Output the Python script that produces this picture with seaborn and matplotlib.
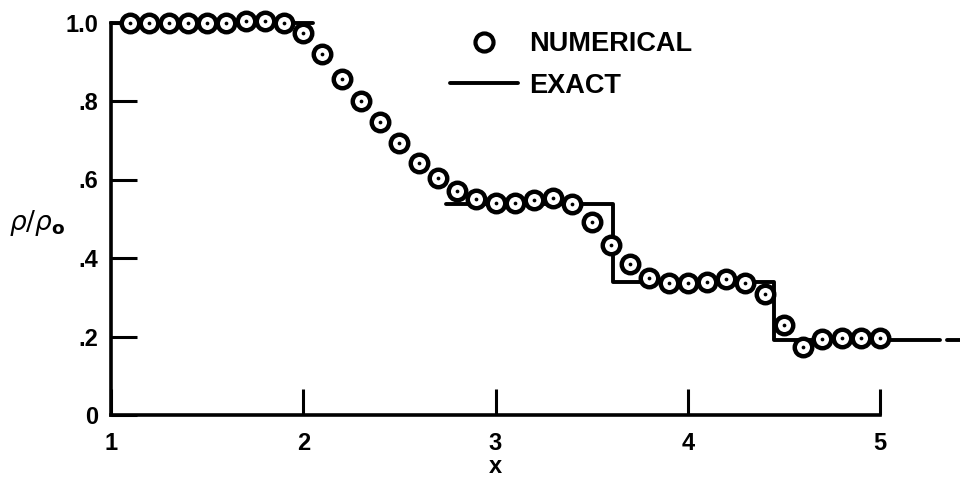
import pandas as pd
import matplotlib
matplotlib.use('Agg')
import matplotlib.pyplot as plt
from matplotlib.lines import Line2D
import seaborn as sns

# numerical solution (circles)
num_x = [1.1, 1.2, 1.3, 1.4, 1.5, 1.6, 1.7, 1.8, 1.9, 2.0,
         2.1, 2.2, 2.3, 2.4, 2.5, 2.6, 2.7, 2.8, 2.9, 3.0,
         3.1, 3.2, 3.3, 3.4, 3.5, 3.6, 3.7, 3.8, 3.9, 4.0,
         4.1, 4.2, 4.3, 4.4, 4.5, 4.6, 4.7, 4.8, 4.9, 5.0]
num_rho = [0.999, 0.998, 0.998, 0.998, 0.998, 0.998, 1.005, 1.005, 0.998, 0.973,
           0.921, 0.856, 0.801, 0.747, 0.692, 0.643, 0.605, 0.571, 0.550, 0.541,
           0.541, 0.548, 0.554, 0.537, 0.491, 0.433, 0.384, 0.348, 0.336, 0.336,
           0.340, 0.346, 0.337, 0.308, 0.230, 0.174, 0.194, 0.197, 0.195, 0.195]

# exact solution, drawn as separate pieces
exact_x = [1.0, 2.05, 2.74, 3.61, 3.61, 4.45, 4.45, 5.31, 5.35, 5.42]
exact_rho = [1.0, 1.0, 0.537, 0.537, 0.338, 0.338, 0.191, 0.191, 0.191, 0.191]
exact_seg = [0, 0, 1, 1, 1, 1, 1, 1, 2, 2]

y_ticks = [0, 0.2, 0.4, 0.6, 0.8, 1.0]
y_ticklabels = ['0', '.2', '.4', '.6', '.8', '1.0']
x_ticks = [1, 2, 3, 4, 5]

sns.set_style('ticks')
plt.rcParams['font.family'] = ['Liberation Sans', 'DejaVu Sans']
plt.rcParams.update({'text.color': 'black', 'axes.labelcolor': 'black',
                     'xtick.color': 'black', 'ytick.color': 'black'})

num = pd.DataFrame({'x': num_x, 'rho': num_rho})
exact = pd.DataFrame({'x': exact_x, 'rho': exact_rho, 'seg': exact_seg})

fig, ax = plt.subplots(figsize=(9.6, 4.83), dpi=100)
fig.subplots_adjust(left=111/960, right=880/960, bottom=1-415/483, top=1-22.5/483)

sns.lineplot(data=exact, x='x', y='rho', units='seg', estimator=None, sort=False,
             color='black', linewidth=2.8, ax=ax, zorder=2)
for ln in ax.lines:
    ln.set_clip_on(False)

sns.scatterplot(data=num, x='x', y='rho', s=12.6**2, facecolor='white',
                edgecolor='black', linewidth=3.2, ax=ax, zorder=3, clip_on=False)
sns.scatterplot(data=num, x='x', y='rho', s=2.7**2, color='black',
                linewidth=0, ax=ax, zorder=4, clip_on=False)

ax.set_xlim(1, 5)
ax.set_ylim(0, 1.0)
ax.set_xticks(x_ticks)
ax.set_xticklabels([str(t) for t in x_ticks])
ax.set_yticks(y_ticks)
ax.set_yticklabels(y_ticklabels)
ax.tick_params(direction='in', length=19, width=2.2, labelsize=17)
ax.tick_params(axis='y', pad=9)
ax.tick_params(axis='x', pad=12)
for lab in ax.get_xticklabels() + ax.get_yticklabels():
    lab.set_fontweight('bold')

sns.despine(ax=ax)
for s in ['left', 'bottom']:
    ax.spines[s].set_linewidth(2.6)
    ax.spines[s].set_color('black')

ax.set_xlabel('x', fontsize=17, fontweight='bold', labelpad=0)
ax.set_ylabel(r'$\rho/\rho_{\mathbf{o}}$', fontsize=19, rotation=0,
              ha='left', va='center', fontweight='normal')
ax.yaxis.set_label_coords(-0.132, 0.49)

handles = [
    Line2D([], [], linestyle='none', marker='o', markersize=13, markeredgewidth=3,
           markerfacecolor='white', markeredgecolor='black'),
    Line2D([], [], color='black', linewidth=2.8),
]
ax.legend(handles, ['NUMERICAL', 'EXACT'], loc='upper left',
          bbox_to_anchor=(450/960, 1-31/483), bbox_transform=fig.transFigure,
          frameon=False, borderpad=0, borderaxespad=0, handlelength=2.5,
          handletextpad=0.42, labelspacing=0.58,
          prop={'size': 19.5, 'weight': 'bold'})

plt.savefig('out.png', dpi=100)
